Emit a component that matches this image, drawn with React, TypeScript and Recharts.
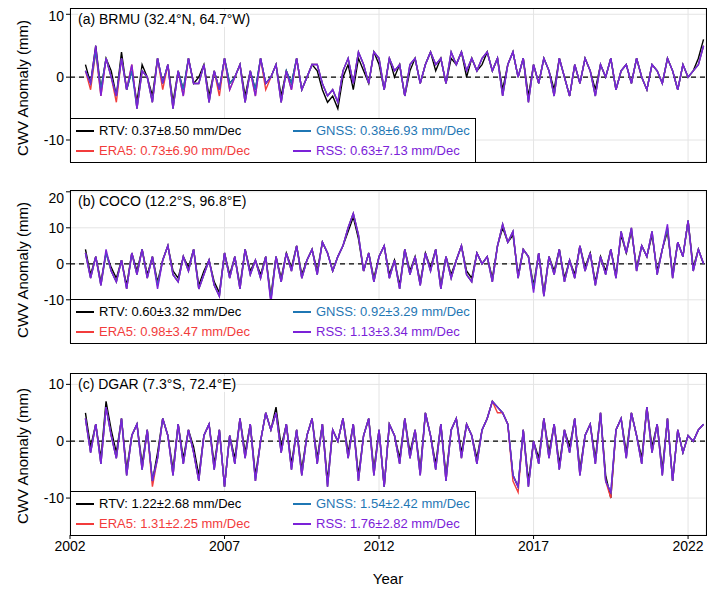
import { LineChart, Line, XAxis, YAxis, CartesianGrid, ReferenceLine } from "recharts";

// bimonthly samples from 2002.5 to 2022.5
const YEARS = Array.from({ length: 121 }, (_, i) => 2002.5 + i / 6);
const YEAR_TICKS = [2002, 2007, 2012, 2017, 2022];

const BRMU_RTV = [2, -1, 5, -2, 3, 1, -3, 4, -2, 1, -4, 2, 0, -3, 3, -1, 2, -4, 1, -2, 3, -1, 0, 2, -3, 1, -2, 3, -1, 0, 2, -3, 1, -2, 3, -1, 0, 2, -3, 1, -1, 3, -2, 0, 2, 1, -2, -4, -3, -5, 0, 2, -2, 3, 1, -1, 4, 2, -2, 3, 0, 2, -3, 1, 3, -1, 2, 4, 1, 3, -1, 3, 2, 4, 0, 3, 1, 2, 4, 1, 3, -2, 2, 4, 0, 3, -3, 2, -1, 3, 1, -2, 3, 0, -3, 2, -1, 3, 1, -2, 2, 0, 3, -2, 1, 2, -1, 3, 0, -2, 2, 1, -1, 3, 1, -2, 2, 0, 1, 3, 6];
const BRMU_ERA5 = [1, -2, 4, -3, 3, 0, -4, 3, -2, 2, -5, 1, 0, -4, 3, -2, 2, -5, 1, -3, 3, -1, -1, 2, -4, 1, -3, 3, -2, 0, 2, -4, 1, -3, 3, -2, 0, 2, -4, 1, -2, 3, -2, 0, 2, 2, -1, -3, -2, -4, 1, 3, -1, 4, 2, -1, 4, 3, -2, 3, 1, 2, -3, 2, 3, -1, 2, 4, 2, 3, -1, 4, 2, 4, 1, 3, 1, 3, 4, 1, 3, -3, 2, 4, 0, 3, -4, 2, -1, 3, 1, -3, 3, 0, -3, 2, -1, 3, 1, -3, 2, 0, 3, -2, 1, 2, -1, 3, 0, -2, 2, 1, -1, 3, 1, -2, 2, 0, 1, 2, 5];
const BRMU_GNSS = [1, -1, 4, -2, 3, 0, -3, 3, -2, 1, -5, 1, 0, -4, 3, -1, 2, -5, 1, -2, 3, -1, -1, 2, -4, 1, -2, 3, -1, 0, 2, -4, 1, -2, 3, -1, 0, 2, -4, 1, -1, 3, -2, 0, 2, 2, -1, -3, -2, -4, 1, 3, -1, 4, 2, -1, 4, 3, -2, 3, 1, 2, -3, 2, 3, -1, 2, 4, 2, 3, -1, 4, 2, 4, 1, 3, 1, 3, 4, 1, 3, -3, 2, 4, 0, 3, -4, 2, -1, 3, 1, -3, 3, 0, -3, 2, -1, 3, 1, -3, 2, 0, 3, -2, 1, 2, -1, 3, 0, -2, 2, 1, -1, 3, 1, -2, 2, 0, 1, 2, 5];
const BRMU_RSS = [1, -1, 5, -3, 3, 0, -3, 3, -2, 2, -5, 1, 0, -4, 3, -1, 2, -5, 1, -3, 3, -1, -1, 2, -4, 1, -2, 3, -2, 0, 2, -4, 1, -3, 3, -1, 0, 2, -4, 1, -2, 3, -2, 0, 2, 2, -1, -3, -2, -4, 1, 3, -1, 4, 2, -1, 4, 3, -2, 3, 1, 2, -3, 2, 3, -1, 2, 4, 2, 3, -1, 4, 2, 4, 1, 3, 1, 3, 4, 1, 3, -3, 2, 4, 0, 3, -4, 2, -1, 3, 1, -3, 3, 0, -3, 2, -1, 3, 1, -3, 2, 0, 3, -2, 1, 2, -1, 3, 0, -2, 2, 1, -1, 3, 1, -2, 2, 0, 1, 2, 5];

const COCO_RTV = [4, -3, 2, -5, 3, -1, -4, 1, -6, 3, -2, 4, -3, 2, -5, 1, 5, -2, -4, 2, -1, 4, -6, -2, 1, -5, -8, 3, -3, 2, -6, 4, -2, 1, -3, 2, -9, 2, -4, 3, -1, 5, -3, 1, 4, -2, 6, 3, -2, 2, 5, 9, 13, 7, -2, 3, -4, 2, 5, -3, 1, -6, 4, -2, 2, -5, 3, -1, 4, -6, 2, -3, 1, 5, -2, -4, 3, 0, 2, -4, 5, 10, 6, 8, -3, 4, 2, -6, 3, -8, 2, -2, 4, -4, 1, -3, 5, -1, 3, -5, 2, -2, 4, -3, 8, 3, 9, -1, 5, 2, 8, -2, 4, 9, -3, 6, 2, 12, -1, 4, 0];
const COCO_ERA5 = [3, -4, 2, -6, 3, -2, -5, 1, -7, 3, -3, 4, -4, 2, -6, 1, 5, -3, -5, 2, -2, 4, -7, -3, 1, -6, -9, 3, -4, 2, -7, 4, -3, 1, -4, 2, -10, 2, -5, 3, -2, 5, -4, 1, 4, -3, 6, 3, -2, 2, 5, 10, 14, 8, -2, 3, -5, 2, 5, -4, 1, -7, 4, -3, 2, -6, 3, -2, 4, -7, 2, -4, 1, 5, -3, -5, 3, 0, 2, -5, 5, 11, 6, 9, -4, 4, 2, -7, 3, -9, 2, -3, 4, -5, 1, -4, 5, -2, 3, -6, 2, -3, 4, -4, 9, 3, 10, -2, 5, 2, 9, -3, 4, 10, -4, 6, 2, 12, -2, 4, 0];
const COCO_GNSS = [3, -4, 2, -6, 3, -2, -5, 1, -7, 3, -3, 4, -4, 2, -6, 1, 5, -3, -5, 2, -2, 4, -7, -3, 1, -6, -9, 3, -4, 2, -7, 4, -3, 1, -4, 2, -10, 2, -5, 3, -2, 5, -4, 1, 4, -3, 6, 3, -2, 2, 5, 10, 14, 8, -2, 3, -5, 2, 5, -4, 1, -7, 4, -3, 2, -6, 3, -2, 4, -7, 2, -4, 1, 5, -3, -5, 3, 0, 2, -5, 5, 11, 6, 9, -4, 4, 2, -7, 3, -9, 2, -3, 4, -5, 1, -4, 5, -2, 3, -6, 2, -3, 4, -4, 9, 3, 10, -2, 5, 2, 9, -3, 4, 10, -4, 6, 2, 12, -2, 4, 0];
const COCO_RSS = [3, -4, 2, -6, 4, -2, -5, 1, -7, 3, -3, 4, -4, 2, -7, 1, 5, -3, -5, 2, -2, 4, -7, -3, 1, -6, -9, 3, -4, 2, -7, 4, -3, 1, -4, 2, -11, 2, -5, 3, -2, 5, -4, 1, 4, -3, 6, 3, -2, 2, 5, 10, 14, 8, -2, 3, -5, 2, 5, -4, 1, -7, 4, -3, 2, -6, 3, -2, 4, -7, 2, -4, 1, 5, -3, -5, 3, 0, 2, -5, 5, 11, 6, 9, -4, 4, 2, -8, 3, -9, 2, -3, 4, -5, 1, -4, 5, -2, 3, -6, 2, -3, 4, -4, 9, 3, 10, -2, 5, 2, 9, -3, 4, 11, -4, 6, 2, 12, -2, 4, 0];

const DGAR_RTV = [5, -1, 3, -3, 7, 2, -2, 4, -5, 1, 3, -4, 2, -7, -2, 4, 1, -5, 3, -3, 2, -1, -6, 1, 3, -4, 2, -8, 1, -3, 4, -2, 3, -6, 0, 5, 2, 6, -1, 3, -4, 2, -5, 1, 4, -3, 3, -7, 2, 0, 4, -2, 3, -6, 1, 4, -5, 2, -8, 3, 1, -3, 4, -2, 2, -5, 5, 1, -4, 3, -6, 2, 4, -2, 3, 1, -3, 2, 4, 7, 6, 5, 3, -6, -8, 2, -7, 0, -3, 4, -2, 3, -4, 2, -1, 4, -5, 1, 3, -3, 5, -6, -10, 2, 4, -2, 5, 1, -3, 6, -1, 3, -5, 4, -7, 2, -2, 1, 0, 2, 3];
const DGAR_ERA5 = [4, -2, 3, -4, 6, 1, -3, 4, -6, 1, 3, -5, 2, -8, -3, 4, 1, -6, 3, -4, 2, -2, -7, 1, 3, -5, 2, -8, 1, -4, 4, -3, 3, -7, 0, 5, 2, 5, -2, 3, -5, 2, -6, 1, 4, -4, 3, -8, 2, 0, 4, -3, 3, -7, 1, 4, -6, 2, -8, 3, 1, -4, 4, -3, 2, -6, 5, 1, -5, 3, -7, 2, 4, -3, 3, 1, -4, 2, 4, 7, 5, 5, 3, -7, -9, 2, -8, 0, -4, 4, -3, 3, -5, 2, -2, 4, -6, 1, 3, -4, 5, -7, -10, 2, 4, -3, 5, 1, -4, 6, -2, 3, -6, 4, -7, 2, -2, 1, 0, 2, 3];
const DGAR_GNSS = [4, -2, 3, -4, 6, 1, -3, 4, -6, 1, 3, -5, 2, -7, -3, 4, 1, -6, 3, -4, 2, -2, -7, 1, 3, -5, 2, -8, 1, -4, 4, -3, 3, -7, 0, 5, 2, 5, -2, 3, -5, 2, -6, 1, 4, -4, 3, -8, 2, 0, 4, -3, 3, -7, 1, 4, -6, 2, -8, 3, 1, -4, 4, -3, 2, -6, 5, 1, -5, 3, -7, 2, 4, -3, 3, 1, -4, 2, 4, 7, 6, 5, 3, -6, -8, 2, -8, 0, -4, 4, -3, 3, -5, 2, -2, 4, -6, 1, 3, -4, 5, -7, -9, 2, 4, -3, 5, 1, -4, 6, -2, 3, -6, 4, -7, 2, -2, 1, 0, 2, 3];
const DGAR_RSS = [4, -2, 3, -4, 6, 1, -3, 4, -6, 1, 3, -5, 2, -7, -3, 4, 1, -6, 3, -4, 2, -2, -7, 1, 3, -5, 2, -8, 1, -4, 4, -3, 3, -7, 0, 5, 2, 5, -2, 3, -5, 2, -6, 1, 4, -4, 3, -8, 2, 0, 4, -3, 3, -7, 1, 4, -6, 2, -8, 3, 1, -4, 4, -3, 2, -6, 5, 1, -5, 3, -7, 2, 4, -3, 3, 1, -4, 2, 4, 7, 6, 5, 3, -6, -8, 2, -8, 0, -4, 4, -3, 3, -5, 2, -2, 4, -6, 1, 3, -4, 5, -7, -9, 2, 4, -3, 5, 1, -4, 6, -2, 3, -6, 4, -7, 2, -2, 1, 0, 2, 3];

const COLORS = { RTV: "#000000", ERA5: "#f23c3c", GNSS: "#1f77b4", RSS: "#7b22d8" };
const FONT = "'Liberation Sans', Arial, sans-serif";

const build = (a: number[], b: number[], c: number[], d: number[]) =>
  YEARS.map((x, i) => ({ x, RTV: a[i], ERA5: b[i], GNSS: c[i], RSS: d[i] }));

type Panel = {
  title: string;
  top: number;
  height: number;
  domain: [number, number];
  ticks: number[];
  data: any[];
  legend: string[];
};

const PANELS: Panel[] = [
  { title: "(a) BRMU (32.4°N, 64.7°W)", top: 8, height: 154, domain: [-13.5, 11], ticks: [-10, 0, 10],
    data: build(BRMU_RTV, BRMU_ERA5, BRMU_GNSS, BRMU_RSS),
    legend: ["RTV: 0.37±8.50 mm/Dec", "ERA5: 0.73±6.90 mm/Dec", "GNSS: 0.38±6.93 mm/Dec", "RSS: 0.63±7.13 mm/Dec"] },
  { title: "(b) COCO (12.2°S, 96.8°E)", top: 190, height: 153, domain: [-22, 20.5], ticks: [-10, 0, 10, 20],
    data: build(COCO_RTV, COCO_ERA5, COCO_GNSS, COCO_RSS),
    legend: ["RTV: 0.60±3.32 mm/Dec", "ERA5: 0.98±3.47 mm/Dec", "GNSS: 0.92±3.29 mm/Dec", "RSS: 1.13±3.34 mm/Dec"] },
  { title: "(c) DGAR (7.3°S, 72.4°E)", top: 373, height: 162, domain: [-16.5, 12], ticks: [-10, 0, 10],
    data: build(DGAR_RTV, DGAR_ERA5, DGAR_GNSS, DGAR_RSS),
    legend: ["RTV: 1.22±2.68 mm/Dec", "ERA5: 1.31±2.25 mm/Dec", "GNSS: 1.54±2.42 mm/Dec", "RSS: 1.76±2.82 mm/Dec"] },
];

const LEFT = 70;
const RIGHT = 706;

function PanelChart({ p, last }: { p: Panel; last: boolean }) {
  const xh = last ? 24 : 0;
  const keys: (keyof typeof COLORS)[] = ["RTV", "ERA5", "GNSS", "RSS"];
  const legendColors = [COLORS.RTV, COLORS.ERA5, COLORS.GNSS, COLORS.RSS];
  return (
    <div style={{ position: "absolute", left: 0, top: p.top }}>
      <LineChart width={710} height={p.height + xh} data={p.data}
        margin={{ top: 0, right: 710 - RIGHT, bottom: 0, left: 0 }}>
        <CartesianGrid stroke="#e4e4e4" />
        <XAxis type="number" dataKey="x" domain={[2002, 2022.58]} ticks={YEAR_TICKS}
          height={xh} hide={!last} axisLine={false} tickSize={4}
          tick={{ fill: "#000", fontSize: 14, fontFamily: FONT }} stroke="#000" />
        <YAxis type="number" domain={p.domain} ticks={p.ticks} width={LEFT} axisLine={false} tickSize={4}
          stroke="#000" tick={{ fill: "#000", fontSize: 14, fontFamily: FONT }} allowDataOverflow />
        <ReferenceLine y={0} stroke="#000" strokeDasharray="5 4" strokeWidth={1.2} />
        {keys.map((k) => (
          <Line key={k} dataKey={k} stroke={COLORS[k]} strokeWidth={1.4} dot={false} isAnimationActive={false} />
        ))}
      </LineChart>
      <div style={{ position: "absolute", left: LEFT, top: 0, width: RIGHT - LEFT - 1, height: p.height - 1,
        border: "1px solid #000", pointerEvents: "none" }} />
      <div style={{ position: "absolute", left: LEFT + 8, top: 3, fontFamily: FONT, fontSize: 14, color: "#000",
        background: "rgba(255,255,255,0.85)" }}>{p.title}</div>
      <div style={{ position: "absolute", left: LEFT, top: p.height - 44, width: 404, height: 43,
        border: "1px solid #000", background: "#fff", fontFamily: FONT, fontSize: 13 }}>
        {p.legend.map((t, i) => {
          const col = i < 2 ? 0 : 1;
          const row = i % 2;
          return (
            <div key={t} style={{ position: "absolute", left: col ? 222 : 5, top: 4 + row * 20, display: "flex",
              alignItems: "center", color: legendColors[i] }}>
              <span style={{ display: "inline-block", width: 18, height: 2, background: legendColors[i], marginRight: 5 }} />
              {t}
            </div>
          );
        })}
      </div>
    </div>
  );
}

export default function App() {
  return (
    <div style={{ position: "absolute", left: 0, top: 0, width: 710, height: 591, background: "#fff" }}>
      {PANELS.map((p, i) => (
        <PanelChart key={p.title} p={p} last={i === 2} />
      ))}
      {[88, 270, 456].map((y) => (
        <div key={y} style={{ position: "absolute", left: 22, top: y, transform: "translate(-50%,-50%) rotate(-90deg)",
          fontFamily: FONT, fontSize: 15, whiteSpace: "nowrap" }}>CWV Anomaly (mm)</div>
      ))}
      <div style={{ position: "absolute", left: 388, top: 570, transform: "translateX(-50%)", fontFamily: FONT,
        fontSize: 15 }}>Year</div>
    </div>
  );
}
